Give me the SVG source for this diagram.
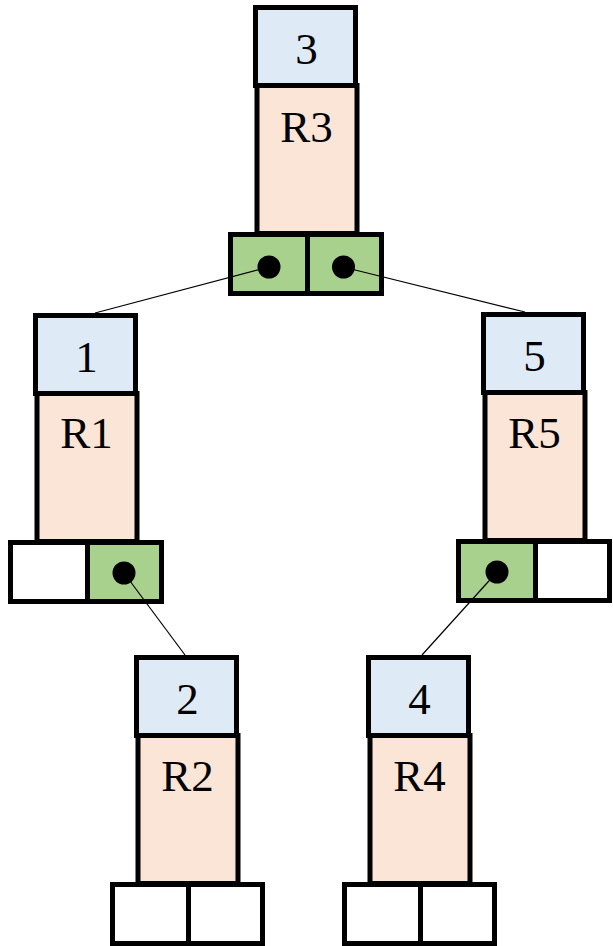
<svg xmlns="http://www.w3.org/2000/svg" width="613" height="946" viewBox="0 0 613 946">
  <style>
    .key { fill: #DEEBF7; stroke: #000; stroke-width: 5; }
    .body { fill: #FBE5D6; stroke: #000; stroke-width: 5; }
    .cell { fill: #FFFFFF; stroke: #000; stroke-width: 5; }
    .cell.on { fill: #A9D18E; }
    .div { stroke: #000; stroke-width: 2; }
    .dot { fill: #000; }
    .lbl { font-family: "Liberation Serif", Tinos, "Times New Roman", serif; font-size: 45px; fill: #000; text-anchor: middle; }
    .link { stroke: #000; stroke-width: 1.2; fill: none; }
  </style>
  <rect width="613" height="946" fill="#FFFFFF"/>

  <!-- node layout (local coords): key 0..105 x 0..83, record body below, pointer pair at y 227..291 -->
  <g id="node-3" transform="translate(253,5)">
    <rect class="body" x="4" y="80.5" width="100" height="148"/>
    <rect class="key" x="2.5" y="2.5" width="100" height="78"/>
    <rect class="cell on" x="-22.5" y="229.5" width="77" height="59"/>
    <rect class="cell on" x="54.5" y="229.5" width="74" height="59"/>
    <line class="div" x1="54.5" y1="229.5" x2="54.5" y2="291"/>
    <circle class="dot" cx="16" cy="262" r="11.5"/>
    <circle class="dot" cx="90.5" cy="262" r="11.5"/>
    <text class="lbl" font-family="Liberation Serif" x="53.5" y="59">3</text>
    <text class="lbl" font-family="Liberation Serif" x="53.5" y="137">R3</text>
  </g>

  <g id="node-1" transform="translate(33,313)">
    <rect class="body" x="4" y="80.5" width="100" height="148"/>
    <rect class="key" x="2.5" y="2.5" width="100" height="78"/>
    <rect class="cell" x="-22.5" y="229.5" width="77" height="59"/>
    <rect class="cell on" x="54.5" y="229.5" width="74" height="59"/>
    <line class="div" x1="54.5" y1="229.5" x2="54.5" y2="291"/>
    <circle class="dot" cx="91" cy="260" r="11.5"/>
    <text class="lbl" font-family="Liberation Serif" x="53.5" y="59">1</text>
    <text class="lbl" font-family="Liberation Serif" x="53.5" y="135">R1</text>
  </g>

  <g id="node-5" transform="translate(481,312)">
    <rect class="body" x="4" y="80.5" width="100" height="148"/>
    <rect class="key" x="2.5" y="2.5" width="100" height="78"/>
    <rect class="cell on" x="-22.5" y="229.5" width="77" height="59"/>
    <rect class="cell" x="54.5" y="229.5" width="74" height="59"/>
    <line class="div" x1="54.5" y1="229.5" x2="54.5" y2="291"/>
    <circle class="dot" cx="16" cy="260" r="11.5"/>
    <text class="lbl" font-family="Liberation Serif" x="53.5" y="59">5</text>
    <text class="lbl" font-family="Liberation Serif" x="53.5" y="136">R5</text>
  </g>

  <g id="node-2" transform="translate(134,655)">
    <rect class="body" x="4" y="80.5" width="100" height="148"/>
    <rect class="key" x="2.5" y="2.5" width="100" height="78"/>
    <rect class="cell" x="-21.5" y="229.5" width="76" height="59"/>
    <rect class="cell" x="54.5" y="229.5" width="74" height="59"/>
    <line class="div" x1="54.5" y1="229.5" x2="54.5" y2="290"/>
    <text class="lbl" font-family="Liberation Serif" x="53.5" y="59">2</text>
    <text class="lbl" font-family="Liberation Serif" x="53.5" y="136">R2</text>
  </g>

  <g id="node-4" transform="translate(366,655)">
    <rect class="body" x="4" y="80.5" width="100" height="148"/>
    <rect class="key" x="2.5" y="2.5" width="100" height="78"/>
    <rect class="cell" x="-21.5" y="229.5" width="76" height="59"/>
    <rect class="cell" x="54.5" y="229.5" width="74" height="59"/>
    <line class="div" x1="54.5" y1="229.5" x2="54.5" y2="290"/>
    <text class="lbl" font-family="Liberation Serif" x="53.5" y="59">4</text>
    <text class="lbl" font-family="Liberation Serif" x="53.5" y="136">R4</text>
  </g>

  <!-- tree edges, drawn on top: child pointer dot to child key box -->
  <g id="connectors">
    <line class="link" x1="269" y1="267" x2="95" y2="313"/>
    <line class="link" x1="343" y1="267" x2="525" y2="312"/>
    <line class="link" x1="124" y1="573" x2="185" y2="655"/>
    <line class="link" x1="497" y1="572" x2="422" y2="655"/>
  </g>
</svg>
